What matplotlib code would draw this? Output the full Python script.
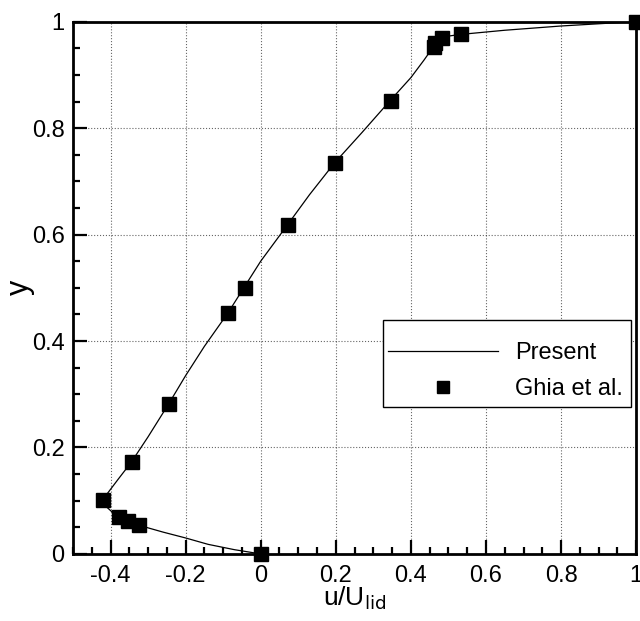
import matplotlib
matplotlib.use('Agg')
import matplotlib.pyplot as plt
from matplotlib.patches import Rectangle
from matplotlib.ticker import MultipleLocator, FuncFormatter

# Ghia et al. (1982), u along the vertical centreline, Re = 3200
ghia_y = [0.0, 0.0547, 0.0625, 0.0703, 0.1016, 0.1719, 0.2813, 0.4531, 0.5,
          0.6172, 0.7344, 0.8516, 0.9531, 0.9609, 0.9688, 0.9766, 1.0]
ghia_u = [0.0, -0.32407, -0.35344, -0.37827, -0.41933, -0.34323, -0.24427,
          -0.086636, -0.04272, 0.07156, 0.19791, 0.34682, 0.46101, 0.46547,
          0.48296, 0.53236, 1.0]

# present simulation profile
present_u = [0.0, -0.07, -0.14, -0.20, -0.26, -0.30, -0.33, -0.36, -0.39, -0.41,
             -0.418, -0.41, -0.38, -0.345, -0.30, -0.245, -0.20, -0.15, -0.087,
             -0.045, 0.0, 0.07, 0.13, 0.197, 0.27, 0.345, 0.40, 0.435, 0.452,
             0.462, 0.472, 0.49, 0.53, 0.65, 0.80, 0.92, 1.0]
present_y = [0.0, 0.008, 0.018, 0.030, 0.041, 0.049, 0.056, 0.064, 0.075, 0.088,
             0.100, 0.112, 0.140, 0.172, 0.22, 0.282, 0.335, 0.39, 0.453,
             0.50, 0.55, 0.617, 0.675, 0.735, 0.792, 0.852, 0.895, 0.928, 0.945,
             0.957, 0.966, 0.972, 0.976, 0.984, 0.992, 0.997, 1.0]

plt.rcParams['font.family'] = ['Liberation Sans', 'DejaVu Sans']

fig = plt.figure(figsize=(6.4, 6.21), dpi=100)
ax = fig.add_axes([0.114, 0.108, 0.88, 0.857])

ax.plot(present_u, present_y, color='black', linewidth=0.9, label='Present')
ax.plot(ghia_u, ghia_y, linestyle='none', marker='s', markersize=10.5,
        color='black', label='Ghia et al.', clip_on=False, zorder=5)

ax.set_xlim(-0.5, 1.0)
ax.set_ylim(0.0, 1.0)
ax.xaxis.set_major_locator(MultipleLocator(0.2))
ax.yaxis.set_major_locator(MultipleLocator(0.2))
ax.xaxis.set_minor_locator(MultipleLocator(0.05))
ax.yaxis.set_minor_locator(MultipleLocator(0.05))

fmt = FuncFormatter(lambda v, p: f'{v:.1f}'.rstrip('0').rstrip('.') if abs(v) > 1e-9 else '0')
ax.xaxis.set_major_formatter(fmt)
ax.yaxis.set_major_formatter(fmt)

ax.tick_params(which='both', direction='in', top=False, right=False,
               labelsize=17, width=1.6, pad=6)
ax.tick_params(axis='x', which='major', pad=8)
ax.tick_params(which='major', length=10)
ax.tick_params(which='minor', length=5)

ax.grid(True, which='major', linestyle=':', color='black', linewidth=0.8, alpha=0.6)
for s in ax.spines.values():
    s.set_linewidth(2)

ax.set_xlabel('u/U$_{\\mathrm{lid}}$', fontsize=19, va='top')
ax.xaxis.set_label_coords(0.5, -0.057)
ax.set_ylabel('y', fontsize=22)
ax.yaxis.set_label_coords(-0.067, 0.5)

# legend box drawn separately so the entries can sit lower inside it
box = Rectangle((0.551, 0.276), 0.44, 0.164, transform=ax.transAxes,
                facecolor='white', edgecolor='black', linewidth=1.0, zorder=9)
ax.add_patch(box)
leg = ax.legend(loc='upper left', bbox_to_anchor=(0.5595, 0.3985), borderaxespad=0,
                fontsize=17, frameon=False, handlelength=4.66, handletextpad=0.72,
                borderpad=0.0, labelspacing=0.6, markerscale=0.8)
leg.set_zorder(10)

fig.savefig('out.png', dpi=100)
